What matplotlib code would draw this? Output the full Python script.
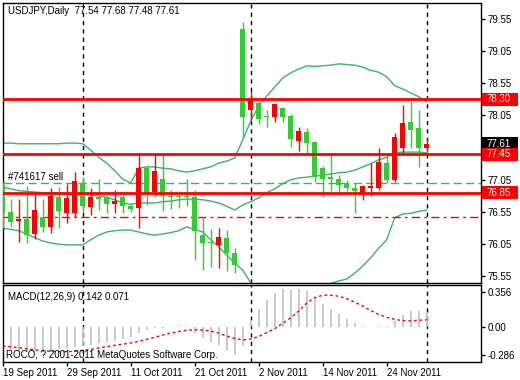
import numpy as np
import pandas as pd
import matplotlib
matplotlib.use("Agg")
import matplotlib.pyplot as plt
from matplotlib.patches import Rectangle
from matplotlib.transforms import blended_transform_factory

plt.rcParams['font.family'] = ["Liberation Sans", "DejaVu Sans"]

# ---------------- data ----------------
dates = pd.bdate_range("2011-09-19", periods=54)

opens = [76.97, 76.55, 76.41, 76.44, 76.21, 76.47, 76.32, 76.78, 76.54, 76.54,
         77.00, 76.63, 76.78, 76.78, 76.67, 76.78, 76.64, 76.62, 77.23, 76.86,
         77.06, 76.80, 76.79, 76.79, 76.79, 76.19, 76.08, 76.04, 76.14, 75.92,
         79.39, 78.14, 78.25, 78.04, 78.03, 78.16, 78.04, 77.66, 77.79, 77.64,
         77.24, 77.09, 77.06, 77.00, 76.92, 76.85, 76.93, 76.93, 77.31, 77.05,
         77.55, 77.95, 77.85, 77.54]
highs = [77.02, 76.75, 76.75, 76.95, 76.84, 76.75, 76.92, 76.94, 76.98, 77.17,
         77.10, 76.93, 77.06, 76.81, 76.89, 76.81, 76.69, 77.46, 77.28, 77.44,
         77.44, 76.89, 76.83, 77.06, 76.89, 76.47, 76.28, 76.30, 76.27, 75.99,
         79.50, 78.43, 78.28, 78.14, 78.24, 78.18, 78.07, 77.87, 77.85, 77.66,
         77.26, 77.47, 77.12, 77.05, 77.00, 76.97, 77.31, 77.55, 77.44, 77.78,
         78.21, 78.28, 78.13, 77.68]
lows = [76.30, 76.32, 76.09, 76.07, 76.13, 76.24, 76.22, 76.30, 76.38, 76.47,
        76.55, 76.50, 76.58, 76.54, 76.54, 76.54, 76.55, 76.30, 76.66, 76.80,
        76.57, 76.59, 76.61, 76.64, 75.80, 75.65, 75.70, 75.68, 75.64, 75.60,
        77.72, 77.98, 77.92, 77.87, 77.95, 77.95, 77.56, 77.50, 77.47, 77.02,
        76.79, 76.88, 76.81, 76.88, 76.54, 76.73, 76.80, 76.89, 77.00, 77.02,
        77.46, 77.54, 77.25, 77.48]
closes = [76.54, 76.40, 76.44, 76.20, 76.58, 76.32, 76.80, 76.57, 76.76, 77.03,
          76.64, 76.79, 76.75, 76.67, 76.72, 76.64, 76.60, 77.23, 76.85, 77.19,
          76.80, 76.79, 76.78, 76.78, 76.26, 76.07, 76.07, 76.16, 75.91, 75.72,
          78.03, 78.32, 77.99, 78.03, 78.22, 78.02, 77.68, 77.81, 77.62, 77.09,
          77.07, 77.06, 76.97, 76.93, 76.88, 76.95, 76.95, 77.33, 77.05, 77.72,
          77.93, 77.83, 77.54, 77.61]

bb_upper = [77.62, 77.62, 77.61, 77.61, 77.61, 77.61, 77.61, 77.61, 77.62, 77.62,
            77.61, 77.51, 77.40, 77.31, 77.19, 77.06, 77.00, 77.23, 77.25, 77.25,
            77.23, 77.22, 77.19, 77.17, 77.19, 77.22, 77.25, 77.31, 77.34, 77.39,
            77.67, 77.96, 78.20, 78.35, 78.49, 78.63, 78.71, 78.77, 78.82, 78.81,
            78.82, 78.83, 78.85, 78.84, 78.83, 78.80, 78.75, 78.72, 78.65, 78.51,
            78.46, 78.40, 78.34, 78.26]
bb_middle = [76.94, 76.91, 76.88, 76.87, 76.86, 76.85, 76.85, 76.84, 76.83, 76.82,
             76.82, 76.81, 76.80, 76.78, 76.74, 76.69, 76.67, 76.69, 76.69, 76.69,
             76.71, 76.72, 76.74, 76.75, 76.75, 76.74, 76.72, 76.69, 76.64, 76.58,
             76.66, 76.71, 76.77, 76.85, 76.91, 76.99, 77.05, 77.08, 77.09, 77.11,
             77.12, 77.14, 77.16, 77.17, 77.20, 77.25, 77.30, 77.36, 77.40, 77.47,
             77.48, 77.48, 77.48, 77.47]
bb_lower = [76.30, 76.28, 76.26, 76.21, 76.15, 76.10, 76.07, 76.05, 76.04, 76.04,
            76.04, 76.12, 76.19, 76.24, 76.26, 76.27, 76.27, 76.24, 76.21, 76.19,
            76.21, 76.23, 76.26, 76.32, 76.28, 76.24, 76.12, 76.01, 75.88, 75.76,
            75.65, 75.45, 75.34, 75.31, 75.29, 75.31, 75.34, 75.35, 75.37, 75.39,
            75.42, 75.44, 75.48, 75.51, 75.60, 75.71, 75.84, 75.99, 76.12, 76.46,
            76.52, 76.53, 76.56, 76.58]

macd_main = [-0.24, -0.245, -0.25, -0.26, -0.255, -0.25, -0.24, -0.23, -0.22, -0.21,
             -0.20, -0.186, -0.17, -0.153, -0.142, -0.129, -0.10, -0.068, -0.034, -0.01,
             -0.01, 0.0, 0.01, 0.01, -0.068, -0.119, -0.153, -0.186, -0.237, -0.285,
             -0.20, 0.07, 0.18, 0.27, 0.34, 0.38, 0.37, 0.38, 0.36, 0.30,
             0.23, 0.18, 0.13, 0.08, 0.04, 0.01, 0.0, 0.01, 0.005, 0.06,
             0.12, 0.16, 0.16, 0.142]
macd_signal = [-0.196, -0.205, -0.213, -0.225, -0.235, -0.244, -0.25, -0.253, -0.254, -0.25,
               -0.24, -0.232, -0.217, -0.203, -0.19, -0.178, -0.165, -0.15, -0.128, -0.108,
               -0.085, -0.065, -0.05, -0.036, -0.032, -0.034, -0.045, -0.065, -0.095, -0.12,
               -0.135, -0.125, -0.10, -0.06, -0.02, 0.035, 0.09, 0.16, 0.24, 0.295,
               0.32, 0.32, 0.31, 0.285, 0.25, 0.21, 0.165, 0.125, 0.095, 0.075,
               0.062, 0.06, 0.065, 0.071]

price_ticks = [79.55, 79.05, 78.55, 78.05, 77.05, 76.55, 76.05, 75.55]
macd_ticks = [0.356, 0.0, -0.286]
macd_tick_labels = ["0.356", "0.00", "-0.286"]
level_lines = [78.30, 77.45, 76.85]
current_price = 77.61
order_price = 77.00
stop_price = 76.47
title_text = "USDJPY,Daily  77.54 77.68 77.48 77.61"
order_text = "#741617 sell"
macd_text = "MACD(12,26,9) 0.142 0.071"
copyright_text = "ROCO, ? 2001-2011 MetaQuotes Software Corp."

# ---------------- layout ----------------
W, H = 520, 380
fig = plt.figure(figsize=(W / 100, H / 100), dpi=100)
fig.patch.set_facecolor("white")


def rect(x0, y0, x1, y1):
    return [x0 / W, 1 - y1 / H, (x1 - x0) / W, (y1 - y0) / H]


ax = fig.add_axes(rect(2.5, 3, 481, 283))
mx = fig.add_axes(rect(2.5, 285, 481, 362))

n = len(opens)
x = np.arange(n)
o = np.array(opens); h = np.array(highs); l = np.array(lows); c = np.array(closes)
up = c >= o
RED = "#FF0000"
GREEN = "#32CD32"
BAND = "#3CB371"
cols = np.where(up, RED, GREEN)

xlim = (-0.025, 59.79)
for a in (ax, mx):
    a.set_xlim(*xlim)
    for s in a.spines.values():
        s.set_color("black")
        s.set_linewidth(1)

ax.set_ylim(75.448, 79.795)
mx.set_ylim(-0.359, 0.424)

# period separators (month starts)
months = dates.month
sep_idx = [i for i in range(1, n) if months[i] != months[i - 1]]
for a in (ax, mx):
    for i in sep_idx:
        a.axvline(i, color="black", lw=1, ls=(0, (3, 3)), zorder=1)

# Bollinger bands
ax.plot(x, bb_upper, color=BAND, lw=1, zorder=2)
ax.plot(x, bb_middle, color=BAND, lw=1, zorder=2)
ax.plot(x, bb_lower, color=BAND, lw=1, zorder=2)

# order lines
ax.axhline(order_price, color=BAND, lw=1, ls=(0, (6, 3)), zorder=2)
ax.axhline(stop_price, color=RED, lw=1, ls=(0, (6, 3, 2, 3)), zorder=2)

# candles
ax.vlines(x, l, h, colors=cols, lw=1, zorder=3)
body_lo = np.minimum(o, c)
body_h = np.maximum(np.abs(c - o), 0.014)
ax.bar(x, body_h, bottom=body_lo, width=0.58, color=cols, linewidth=0, zorder=4)

# level lines
for lv in level_lines:
    ax.axhline(lv, color=RED, lw=2, zorder=5)

# right price axis
ax.yaxis.tick_right()
ax.set_yticks(price_ticks)
ax.set_yticklabels([f"{v:.2f}" for v in price_ticks])
ax.tick_params(axis="y", length=3, width=1, pad=2, labelsize=7, colors="black")
ax.set_xticks([])

# price label boxes
bt = blended_transform_factory(fig.transFigure, ax.transData)
box_h = 13 / 64.4
for lv, fc in [(level_lines[0], RED), (current_price, "black"),
               (level_lines[1], RED), (level_lines[2], RED)]:
    ax.add_patch(Rectangle((482 / W, lv - box_h / 2), 36 / W, box_h, transform=bt,
                           facecolor=fc, edgecolor="none", clip_on=False, zorder=10))
    ax.text(486 / W, lv, f"{lv:.2f}", transform=bt, color="white", fontsize=7,
            va="center", ha="left", clip_on=False, zorder=11)

# texts
fig.text(8 / W, 1 - 11 / H, title_text, fontsize=7, va="center", ha="left", color="black")
fig.text(8 / W, 1 - 177.5 / H, order_text, fontsize=7, va="center", ha="left", color="black")

# MACD
mx.vlines(x, 0, macd_main, colors="#C0C0C0", lw=1.2, zorder=2)
mx.plot(x, macd_signal, color=RED, lw=1, ls=(0, (2, 2)), zorder=3)
mx.yaxis.tick_right()
mx.set_yticks(macd_ticks)
mx.set_yticklabels(macd_tick_labels)
mx.tick_params(axis="y", length=3, width=1, pad=2, labelsize=7, colors="black")

tick_idx = list(range(0, n, 8))
mx.set_xticks(tick_idx)
mx.set_xticklabels([f"{dates[i].day} {dates[i]:%b %Y}" for i in tick_idx],
                   ha="left", fontsize=7)
mx.tick_params(axis="x", length=3, width=1, pad=1, colors="black")

fig.text(8 / W, 1 - 297 / H, macd_text, fontsize=7, va="center", ha="left", color="black")
fig.text(6 / W, 1 - 355 / H, copyright_text, fontsize=7, va="center", ha="left",
         color="black", zorder=20)

fig.savefig("out.png", dpi=100, facecolor="white")
